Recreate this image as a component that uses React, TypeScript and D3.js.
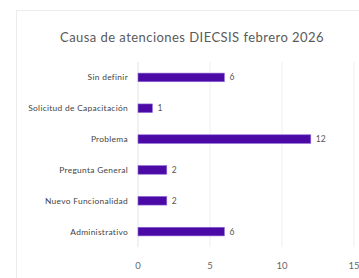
import React, { useEffect, useRef } from 'react';
import * as d3 from 'd3';

const categories = ['Sin definir', 'Solicitud de Capacitación', 'Problema', 'Pregunta General', 'Nuevo Funcionalidad', 'Administrativo'];
const values = [6, 1, 12, 2, 2, 6];
const xTicks = [0, 5, 10, 15];
const title = 'Causa de atenciones DIECSIS febrero 2026';

const App: React.FC = () => {
  const ref = useRef<SVGSVGElement | null>(null);

  useEffect(() => {
    if (!ref.current) return;
    const svg = d3.select(ref.current);
    svg.selectAll('*').remove();
    const font = 'Lato, "Open Sans", sans-serif';

    // card
    svg.append('rect')
      .attr('x', 16.5).attr('y', 10.5)
      .attr('width', 360).attr('height', 280)
      .attr('fill', '#fff')
      .attr('stroke', '#ececec');

    svg.append('text')
      .attr('x', 192).attr('y', 42)
      .attr('text-anchor', 'middle')
      .attr('font-family', font)
      .attr('font-size', 13)
      .attr('letter-spacing', 0.45)
      .attr('fill', '#5a5a5a')
      .text(title);

    const x = d3.scaleLinear().domain([0, 15]).range([138, 354]);
    const y = d3.scaleBand()
      .domain(categories)
      .range([62, 247])
      .paddingInner(0.72)
      .paddingOuter(0.36);

    svg.append('g')
      .selectAll('line')
      .data(xTicks.filter(t => t > 0))
      .enter().append('line')
      .attr('x1', d => x(d)).attr('x2', d => x(d))
      .attr('y1', 62).attr('y2', 247)
      .attr('stroke', '#efefef');

    svg.append('line')
      .attr('x1', x(0)).attr('x2', x(0))
      .attr('y1', 62).attr('y2', 247)
      .attr('stroke', '#e4e4e4');

    svg.append('g')
      .selectAll('text')
      .data(xTicks)
      .enter().append('text')
      .attr('x', d => x(d))
      .attr('y', 269)
      .attr('text-anchor', 'middle')
      .attr('font-family', font)
      .attr('font-size', 9.5)
      .attr('fill', '#666')
      .text(d => d);

    svg.append('g')
      .selectAll('text')
      .data(categories)
      .enter().append('text')
      .attr('x', 128)
      .attr('y', d => y(d)! + y.bandwidth() / 2)
      .attr('dy', '0.35em')
      .attr('text-anchor', 'end')
      .attr('font-family', font)
      .attr('font-size', 8.4)
      .attr('letter-spacing', 0.3)
      .attr('fill', '#444')
      .text(d => d);

    svg.append('g')
      .selectAll('rect')
      .data(values)
      .enter().append('rect')
      .attr('x', x(0))
      .attr('y', (d, i) => y(categories[i])!)
      .attr('width', d => x(d) - x(0))
      .attr('height', y.bandwidth())
      .attr('fill', '#4b0aa6')
      .attr('stroke', '#8f6ad8')
      .attr('stroke-width', 0.6);

    svg.append('g')
      .selectAll('text')
      .data(values)
      .enter().append('text')
      .attr('x', d => x(d) + 5)
      .attr('y', (d, i) => y(categories[i])! + y.bandwidth() / 2)
      .attr('dy', '0.35em')
      .attr('font-family', font)
      .attr('font-size', 8.5)
      .attr('fill', '#555')
      .text(d => d);
  }, []);

  return (
    <svg ref={ref} width={359} height={278} style={{ position: 'absolute', left: 0, top: 0 }} />
  );
};

export default App;
